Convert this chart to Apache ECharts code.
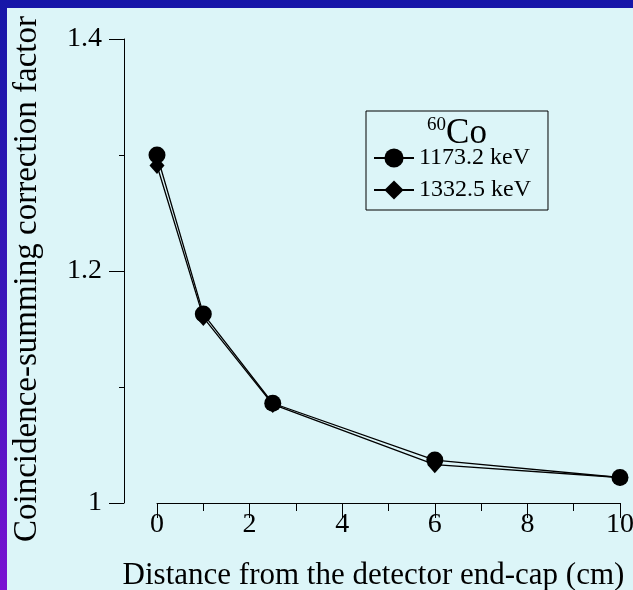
<!DOCTYPE html>
<html>
<head>
<meta charset="utf-8">
<script src="https://cdn.jsdelivr.net/npm/echarts@6/dist/echarts.min.js"></script>
<style>
  html, body { margin: 0; padding: 0; }
  #chart { width: 633px; height: 590px; }
</style>
</head>
<body>
<div id="chart"></div>
<script>
// Source-to-detector distance (cm)
const distances = [0, 1, 2.5, 6, 10];
// Coincidence-summing correction factors for the two 60Co gamma lines
const factor1173 = [1.300, 1.163, 1.086, 1.037, 1.022];
const factor1332 = [1.291, 1.160, 1.085, 1.033, 1.022];
const seriesNames = ['1173.2 keV', '1332.5 keV'];
const xTicks = [0, 2, 4, 6, 8, 10];
const yTicks = [1, 1.2, 1.4];

const serif = '"Liberation Serif", "Times New Roman", serif';

function pairs(xs, ys) {
  return xs.map((x, i) => [x, ys[i]]);
}

const chart = echarts.init(document.getElementById('chart'), null, { renderer: 'canvas' });

chart.setOption({
  animation: false,
  graphic: [
    {
      type: 'rect', z: -100, silent: true,
      shape: { x: 0, y: 0, width: 633, height: 590 },
      style: {
        fill: new echarts.graphic.LinearGradient(0, 0, 0, 1, [
          { offset: 0, color: '#1616a8' },
          { offset: 0.5, color: '#3a16ba' },
          { offset: 1, color: '#7a12d2' }
        ])
      }
    },
    {
      type: 'rect', z: -99, silent: true,
      shape: { x: 7, y: 8, width: 626, height: 582 },
      style: { fill: '#dcf5f8' }
    }
  ],
  title: {
    text: '{sup|60}{big|Co}',
    left: 452,
    top: 111,
    textAlign: 'center',
    textStyle: {
      fontWeight: 'normal',
      rich: {
        sup: { fontFamily: serif, fontSize: 19, fontWeight: 'normal', color: '#000', verticalAlign: 'top', padding: [0, 0, 14, 0] },
        big: { fontFamily: serif, fontSize: 35, fontWeight: 'normal', color: '#000' }
      }
    }
  },
  legend: {
    orient: 'vertical',
    left: 366,
    top: 111,
    padding: [35, 17, 8, 7],
    itemGap: 8,
    itemWidth: 40,
    itemHeight: 24,
    borderColor: '#000',
    borderWidth: 1,
    backgroundColor: 'transparent',
    data: seriesNames,
    textStyle: { fontFamily: serif, fontSize: 24, color: '#000' }
  },
  grid: {
    left: 157,
    right: 13,
    top: 39,
    bottom: 87,
    containLabel: false,
    outerBoundsMode: 'none'
  },
  xAxis: {
    type: 'value',
    min: 0,
    max: 10,
    interval: 2,
    name: 'Distance from the detector end-cap (cm)',
    nameLocation: 'middle',
    nameGap: 57,
    nameTextStyle: { fontFamily: serif, fontSize: 31, color: '#000', padding: [0, 30, 0, 0] },
    axisLine: { show: true, onZero: false, lineStyle: { color: '#000', width: 1 } },
    axisTick: { show: true, inside: false, length: 15, lineStyle: { color: '#000' } },
    minorTick: { show: true, splitNumber: 2, length: 8, lineStyle: { color: '#000' } },
    splitLine: { show: false },
    axisLabel: {
      margin: 8,
      hideOverlap: false,
      fontFamily: serif, fontSize: 28, color: '#000',
      formatter: v => (xTicks.includes(v) ? String(v) : '')
    }
  },
  yAxis: {
    type: 'value',
    min: 1,
    max: 1.4,
    interval: 0.2,
    offset: 33,
    name: 'Coincidence-summing correction factor',
    nameLocation: 'middle',
    nameGap: 80,
    nameRotate: 90,
    nameTextStyle: { fontFamily: serif, fontSize: 33, color: '#000', padding: [0, 16, 0, 0] },
    axisLine: { show: true, onZero: false, lineStyle: { color: '#000', width: 1 } },
    axisTick: { show: true, inside: false, length: 15, lineStyle: { color: '#000' } },
    minorTick: { show: true, splitNumber: 2, length: 5, lineStyle: { color: '#000' } },
    splitLine: { show: false },
    axisLabel: {
      margin: 22,
      fontFamily: serif, fontSize: 28, color: '#000',
      formatter: v => {
        const r = Math.round(v * 10) / 10;
        return yTicks.includes(r) ? String(r) : '';
      }
    }
  },
  series: [
    {
      name: seriesNames[0],
      type: 'line',
      z: 4,
      data: pairs(distances, factor1173),
      symbol: 'circle',
      symbolSize: 17,
      showAllSymbol: true,
      lineStyle: { color: '#000', width: 1.3 },
      itemStyle: { color: '#000' }
    },
    {
      name: seriesNames[1],
      type: 'line',
      z: 3,
      data: pairs(distances, factor1332),
      symbol: 'diamond',
      symbolSize: [15, 17],
      showAllSymbol: true,
      lineStyle: { color: '#000', width: 1.3 },
      itemStyle: { color: '#000' }
    }
  ]
});
</script>
</body>
</html>
